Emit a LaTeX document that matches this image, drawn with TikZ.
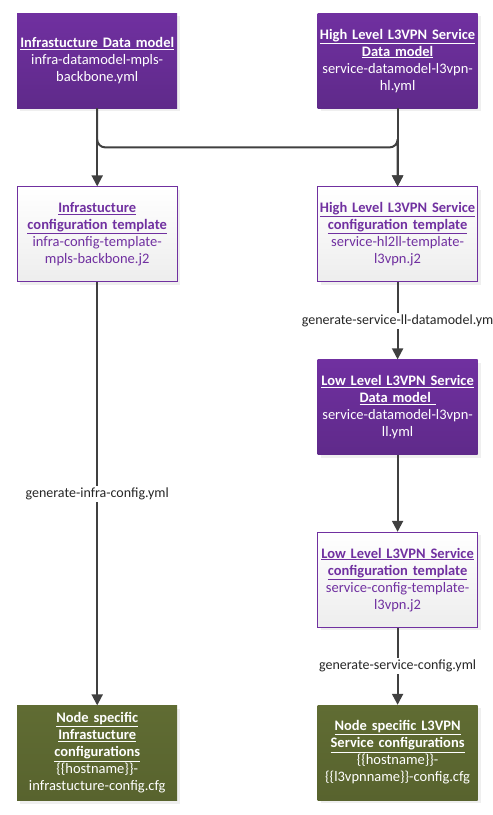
\documentclass[tikz,border=0pt]{standalone}
\usepackage{fontspec}
\setmainfont{Carlito}
\usetikzlibrary{arrows.meta, positioning, calc, shadows}
\definecolor{modelpurple}{HTML}{7030A0}
\definecolor{modelpurpledark}{HTML}{5F2A8A}
\definecolor{confgreen}{HTML}{606C33}
\definecolor{confgreendark}{HTML}{58632E}
\definecolor{linegray}{HTML}{404040}
\tikzset{
  box/.style={rectangle, minimum width=160pt, minimum height=95pt, text width=156pt,
    align=center, inner sep=2pt, font=\fontsize{14.5}{17}\selectfont,
    drop shadow={shadow xshift=3pt, shadow yshift=-3pt, fill=black!12}},
  datamodel/.style={box, top color=modelpurple, bottom color=modelpurpledark, text=white},
  template/.style={box, draw=modelpurple, line width=1pt, top color=white, bottom color=black!7, text=modelpurple},
  output/.style={box, top color=confgreen, bottom color=confgreendark, text=white},
  flow/.style={-{Triangle[width=11pt,length=11pt]}, draw=linegray, line width=2pt},
  steplabel/.style={fill=white, inner sep=2pt, text=black!85, font=\fontsize{14}{16}\selectfont}
}
\begin{document}
\begin{tikzpicture}
    \node[datamodel] (infradm) at (0,0) {\textbf{\underline{Infrastucture Data model}}\\infra-datamodel-mpls-\\backbone.yml};
    \node[datamodel] (hldm) [right=140pt of infradm] {\textbf{\underline{High Level L3VPN Service}}\\\textbf{\underline{Data model}}\\service-datamodel-l3vpn-\\hl.yml};

    \node[template] (infratpl) [below=78pt of infradm] {\textbf{\underline{Infrastucture}}\\\textbf{\underline{configuration template}}\\infra-config-template-\\mpls-backbone.j2};
    \node[template] (hltpl) [below=78pt of hldm] {\textbf{\underline{High Level L3VPN Service}}\\\textbf{\underline{configuration template}}\\service-hl2ll-template-\\l3vpn.j2};

    \node[datamodel] (lldm) [below=77pt of hltpl] {\textbf{\underline{Low Level L3VPN Service}}\\\textbf{\underline{Data model }}\\service-datamodel-l3vpn-\\ll.yml};
    \node[template] (lltpl) [below=77pt of lldm] {\textbf{\underline{Low Level L3VPN Service}}\\\textbf{\underline{configuration template}}\\service-config-template-\\l3vpn.j2};

    \node[output] (infracfg) [below=423pt of infratpl] {\textbf{\underline{Node specific}}\\\textbf{\underline{Infrastucture}}\\\textbf{\underline{configurations}}\\\{\{hostname\}\}-\\infrastucture-config.cfg};
    \node[output] (svccfg) [below=77pt of lltpl] {\textbf{\underline{Node specific L3VPN}}\\\textbf{\underline{Service configurations}}\\\{\{hostname\}\}-\\\{\{l3vpnname\}\}-config.cfg};

    % picture margins
    \useasboundingbox ($(infradm.north west)+(-17pt,13pt)$) rectangle ($(infradm.north west)+(476pt,-802pt)$);

    \draw[flow] (infradm) -- (infratpl);
    \draw[flow, rounded corners=8pt] (infradm.south) |- ($(hldm.south)!0.5!(hltpl.north)$) -| (hltpl.north);
    \draw[flow] (hldm) -- (hltpl);
    \draw[flow] (hltpl) -- node[steplabel] {generate-service-ll-datamodel.ym} (lldm);
    \draw[flow] (lldm) -- (lltpl);
    \draw[flow] (lltpl) -- node[steplabel] {generate-service-config.yml} (svccfg);
    \draw[flow] (infratpl) -- node[steplabel] {generate-infra-config.yml} (infracfg);
\end{tikzpicture}
\end{document}
